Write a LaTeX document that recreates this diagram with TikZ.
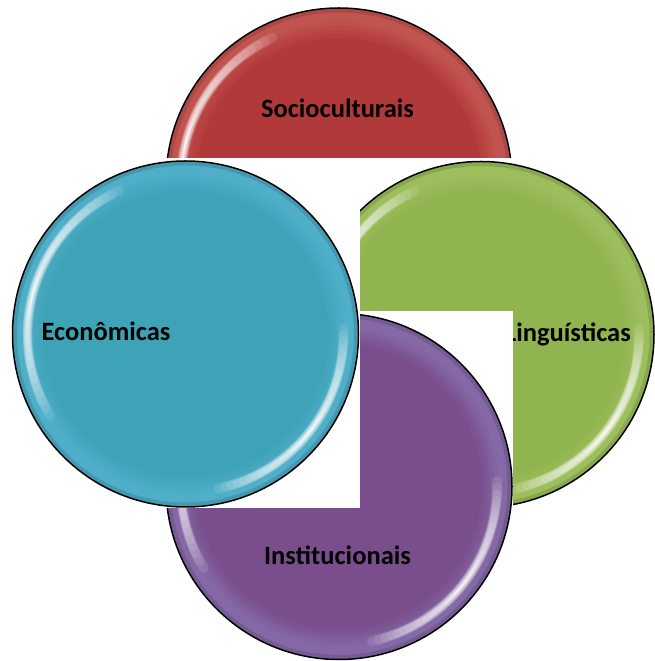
\documentclass[tikz,border=0pt]{standalone}
\usepackage{fontspec}
\setmainfont{Carlito}
\definecolor{redrim}{HTML}{C2544F}
\definecolor{redmid}{HTML}{B2393A}
\definecolor{grnrim}{HTML}{9DBE5C}
\definecolor{grnmid}{HTML}{90B44F}
\definecolor{purrim}{HTML}{8568A6}
\definecolor{purmid}{HTML}{7A4E8C}
\definecolor{blurim}{HTML}{4FAEC8}
\definecolor{blumid}{HTML}{3FA3B8}
\tikzset{
  lbl/.style={font=\fontsize{26.5}{30}\selectfont\bfseries, text=black, inner sep=0pt, anchor=base},
  mask/.style={fill=white, draw=none},
  glossline/.style={white, opacity=0.11, line cap=round},
}
\newcommand{\myplate}[3]{%
  \fill[#3rim] (#1,#2) circle[radius=173];
  \foreach \d/\p in {14/20,18/40,22/60,26/80,30/100}
    \fill[#3mid!\p!#3rim] (#1,#2) circle[radius=173-\d];
  \draw[black, opacity=0.12, line width=4] (#1,#2) circle[radius=170.5];
  \foreach \k in {0,...,13}{%
    \pgfmathsetmacro{\hs}{48-2.8*\k}%
    \pgfmathsetmacro{\lw}{10-0.62*\k}%
    \pgfmathsetmacro{\sa}{163-\hs}%
    \pgfmathsetmacro{\ea}{163+\hs}%
    \draw[glossline, line width=\lw] ([shift={(\sa:158)}]#1,#2) arc[start angle=\sa, end angle=\ea, radius=158];
    \pgfmathsetmacro{\hs}{40-2.3*\k}%
    \pgfmathsetmacro{\sa}{-38-\hs}%
    \pgfmathsetmacro{\ea}{-38+\hs}%
    \draw[glossline, line width=\lw] ([shift={(\sa:158)}]#1,#2) arc[start angle=\sa, end angle=\ea, radius=158];
  }
  \foreach \k in {0,...,5}{%
    \pgfmathsetmacro{\hs}{10-1.5*\k}%
    \pgfmathsetmacro{\sa}{165-\hs}%
    \pgfmathsetmacro{\ea}{165+\hs}%
    \draw[white, opacity=0.15, line width=2.2, line cap=round] ([shift={(\sa:158)}]#1,#2) arc[start angle=\sa, end angle=\ea, radius=158];
    \pgfmathsetmacro{\sa}{-38-\hs}%
    \pgfmathsetmacro{\ea}{-38+\hs}%
    \draw[white, opacity=0.15, line width=2.2, line cap=round] ([shift={(\sa:158)}]#1,#2) arc[start angle=\sa, end angle=\ea, radius=158];
  }
  \draw[black, line width=1.5] (#1,#2) circle[radius=173];
}
\begin{document}
\begin{tikzpicture}[x=1pt,y=1pt]
\useasboundingbox (0,0) rectangle (654,661);
% red (top)
\myplate{339}{480}{red}
\node[lbl] (soc) at (337.5,543) {Socioculturais};
\fill[mask] (160,301) rectangle (514,503);
% green (right)
\myplate{481}{326.5}{grn}
\node[lbl] (lin) at (568,319) {Linguísticas};
\fill[mask] (360,151) rectangle (513,350);
% purple (bottom)
\myplate{339}{174.5}{pur}
\node[lbl] (ins) at (337.5,96) {Institucionais};
\fill[mask] (160,153) rectangle (360,503);
% blue (left)
\myplate{185.5}{327}{blu}
\node[lbl] (eco) at (106,320) {Econômicas};
\end{tikzpicture}
\end{document}
